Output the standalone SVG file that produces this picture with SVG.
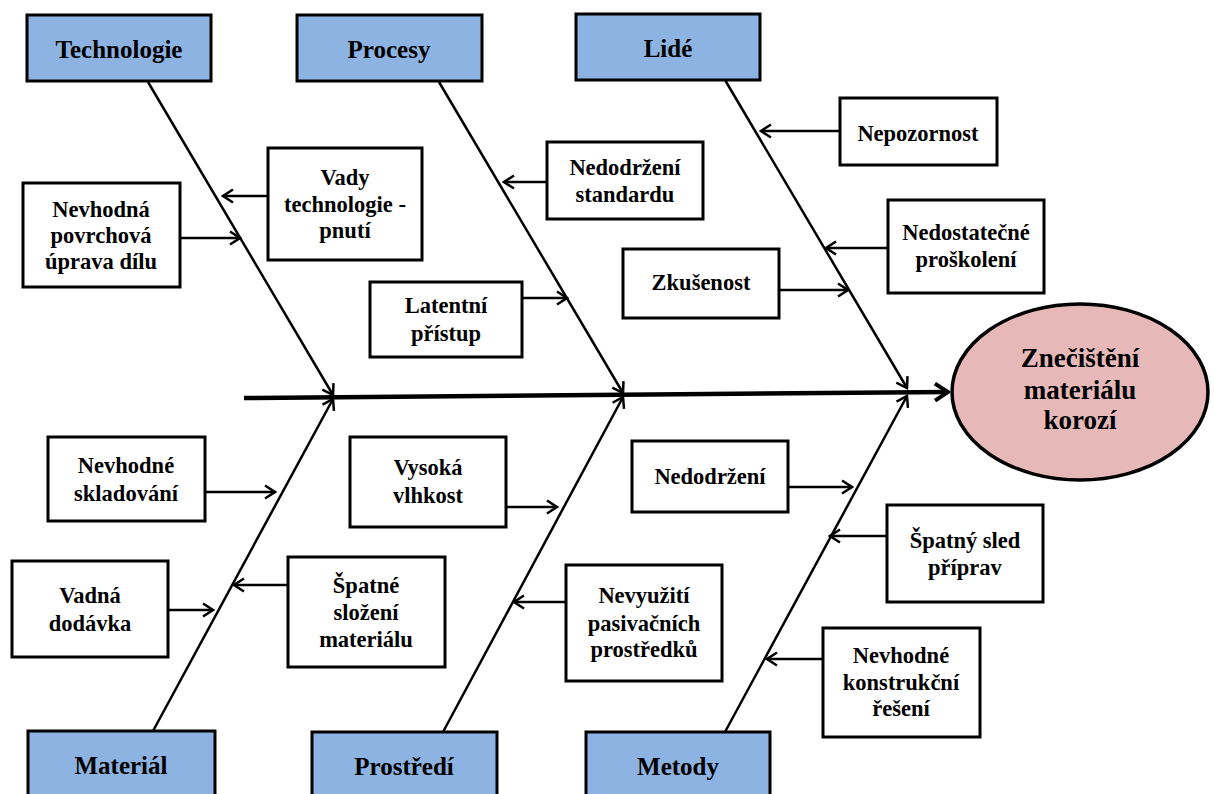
<svg xmlns="http://www.w3.org/2000/svg" width="1214" height="794" viewBox="0 0 1214 794">
  <style>
    .cat { fill: #8DB3E2; stroke: #000; stroke-width: 3; }
    .box { fill: #fff; stroke: #000; stroke-width: 3; }
    .goal { fill: #E6B9B8; stroke: #000; stroke-width: 3.5; }
    .t-cat { font-size: 25px; }
    .t-box { font-size: 22.5px; }
    .t-goal { font-size: 27px; }
    .bone { stroke: #000; stroke-width: 2.5; fill: none; marker-end: url(#arr); }
    .twig { stroke: #000; stroke-width: 2.5; fill: none; marker-end: url(#arr); }
    .spine { stroke: #000; stroke-width: 4.5; fill: none; marker-end: url(#arrBig); }
  </style>
  <defs>
    <marker id="arr" markerUnits="userSpaceOnUse" viewBox="-12 -8 14 16" refX="0" refY="0" markerWidth="14" markerHeight="16" orient="auto">
      <path d="M-10,-6.5 L0,0 L-10,6.5" fill="none" stroke="#000" stroke-width="2.5"/>
    </marker>
    <marker id="arrBig" markerUnits="userSpaceOnUse" viewBox="-16 -10 18 20" refX="0" refY="0" markerWidth="18" markerHeight="20" orient="auto">
      <path d="M-13,-8.5 L0,0 L-13,8.5" fill="none" stroke="#000" stroke-width="4"/>
    </marker>
  </defs>

  <rect width="1214" height="794" fill="#fff"/>

  <!-- connectors: spine, main bones and cause arrows -->
  <g id="connectors">
    <line class="spine" x1="244" y1="398" x2="948" y2="392"/>

    <line class="bone" x1="148" y1="82" x2="333" y2="395"/>
    <line class="bone" x1="153" y1="731" x2="333" y2="399"/>
    <line class="bone" x1="439" y1="82" x2="623" y2="393"/>
    <line class="bone" x1="443" y1="732" x2="623" y2="397"/>
    <line class="bone" x1="725" y1="80" x2="907" y2="388"/>
    <line class="bone" x1="725" y1="732" x2="907" y2="396"/>

    <line class="twig" x1="180" y1="238" x2="240" y2="238"/>
    <line class="twig" x1="268" y1="196" x2="223" y2="196"/>
    <line class="twig" x1="547" y1="182" x2="504" y2="182"/>
    <line class="twig" x1="522" y1="298" x2="567" y2="298"/>
    <line class="twig" x1="779" y1="290" x2="848" y2="290"/>
    <line class="twig" x1="840" y1="131" x2="761" y2="131"/>
    <line class="twig" x1="888" y1="248" x2="826" y2="248"/>

    <line class="twig" x1="205" y1="492" x2="275" y2="492"/>
    <line class="twig" x1="168" y1="610" x2="213" y2="610"/>
    <line class="twig" x1="288" y1="585" x2="234" y2="585"/>
    <line class="twig" x1="506" y1="507" x2="557" y2="507"/>
    <line class="twig" x1="788" y1="487" x2="852" y2="487"/>
    <line class="twig" x1="566" y1="602" x2="514" y2="602"/>
    <line class="twig" x1="887" y1="536" x2="830" y2="536"/>
    <line class="twig" x1="823" y1="659" x2="767" y2="659"/>
  </g>

  <g font-family="Liberation Serif, DejaVu Serif, serif" font-weight="bold" text-anchor="middle" fill="#000">
  <!-- category headers -->
  <g id="cat-technologie">
    <rect class="cat" x="27" y="15" width="184" height="66"/>
    <text class="t-cat" x="119" y="58">Technologie</text>
  </g>
  <g id="cat-procesy">
    <rect class="cat" x="297" y="15" width="185" height="66"/>
    <text class="t-cat" x="389" y="58">Procesy</text>
  </g>
  <g id="cat-lide">
    <rect class="cat" x="576" y="14" width="184" height="66"/>
    <text class="t-cat" x="668" y="57">Lidé</text>
  </g>
  <g id="cat-material">
    <rect class="cat" x="28" y="731" width="187" height="80"/>
    <text class="t-cat" x="121" y="774">Materiál</text>
  </g>
  <g id="cat-prostredi">
    <rect class="cat" x="312" y="732" width="185" height="80"/>
    <text class="t-cat" x="404" y="775">Prostředí</text>
  </g>
  <g id="cat-metody">
    <rect class="cat" x="586" y="732" width="184" height="80"/>
    <text class="t-cat" x="678" y="775">Metody</text>
  </g>

  <!-- effect -->
  <g id="effect">
    <ellipse class="goal" cx="1080" cy="392" rx="128" ry="88"/>
    <text class="t-goal" x="1080" y="367">Znečištění</text>
    <text class="t-goal" x="1080" y="399">materiálu</text>
    <text class="t-goal" x="1080" y="429">korozí</text>
  </g>

  <!-- causes, upper half -->
  <g id="c-povrchova">
    <rect class="box" x="23" y="183" width="157" height="104"/>
    <text class="t-box" x="101" y="217">Nevhodná</text>
    <text class="t-box" x="101" y="243">povrchová</text>
    <text class="t-box" x="101" y="269">úprava dílu</text>
  </g>
  <g id="c-vady">
    <rect class="box" x="268" y="148" width="154" height="112"/>
    <text class="t-box" x="345" y="185">Vady</text>
    <text class="t-box" x="345" y="212">technologie -</text>
    <text class="t-box" x="345" y="238">pnutí</text>
  </g>
  <g id="c-standard">
    <rect class="box" x="547" y="142" width="156" height="77"/>
    <text class="t-box" x="625" y="175">Nedodržení</text>
    <text class="t-box" x="625" y="202">standardu</text>
  </g>
  <g id="c-latentni">
    <rect class="box" x="370" y="282" width="152" height="75"/>
    <text class="t-box" x="446" y="313">Latentní</text>
    <text class="t-box" x="446" y="341">přístup</text>
  </g>
  <g id="c-zkusenost">
    <rect class="box" x="623" y="249" width="156" height="69"/>
    <text class="t-box" x="701" y="290">Zkušenost</text>
  </g>
  <g id="c-nepozornost">
    <rect class="box" x="840" y="98" width="157" height="67"/>
    <text class="t-box" x="918" y="141">Nepozornost</text>
  </g>
  <g id="c-proskoleni">
    <rect class="box" x="888" y="200" width="156" height="93"/>
    <text class="t-box" x="966" y="240">Nedostatečné</text>
    <text class="t-box" x="966" y="267">proškolení</text>
  </g>

  <!-- causes, lower half -->
  <g id="c-skladovani">
    <rect class="box" x="48" y="437" width="157" height="84"/>
    <text class="t-box" x="126" y="473">Nevhodné</text>
    <text class="t-box" x="126" y="501">skladování</text>
  </g>
  <g id="c-dodavka">
    <rect class="box" x="12" y="561" width="156" height="96"/>
    <text class="t-box" x="90" y="603">Vadná</text>
    <text class="t-box" x="90" y="631">dodávka</text>
  </g>
  <g id="c-slozeni">
    <rect class="box" x="288" y="557" width="157" height="110"/>
    <text class="t-box" x="366" y="593">Špatné</text>
    <text class="t-box" x="366" y="620">složení</text>
    <text class="t-box" x="366" y="647">materiálu</text>
  </g>
  <g id="c-vlhkost">
    <rect class="box" x="350" y="437" width="156" height="90"/>
    <text class="t-box" x="428" y="475">Vysoká</text>
    <text class="t-box" x="428" y="503">vlhkost</text>
  </g>
  <g id="c-nedodrzeni">
    <rect class="box" x="632" y="441" width="156" height="71"/>
    <text class="t-box" x="710" y="484">Nedodržení</text>
  </g>
  <g id="c-pasivace">
    <rect class="box" x="566" y="565" width="156" height="116"/>
    <text class="t-box" x="644" y="603">Nevyužití</text>
    <text class="t-box" x="644" y="631">pasivačních</text>
    <text class="t-box" x="644" y="657">prostředků</text>
  </g>
  <g id="c-sled">
    <rect class="box" x="887" y="505" width="156" height="97"/>
    <text class="t-box" x="965" y="548">Špatný sled</text>
    <text class="t-box" x="965" y="575">příprav</text>
  </g>
  <g id="c-konstrukce">
    <rect class="box" x="823" y="628" width="157" height="109"/>
    <text class="t-box" x="901" y="663">Nevhodné</text>
    <text class="t-box" x="901" y="690">konstrukční</text>
    <text class="t-box" x="901" y="716">řešení</text>
  </g>
  </g>
</svg>
